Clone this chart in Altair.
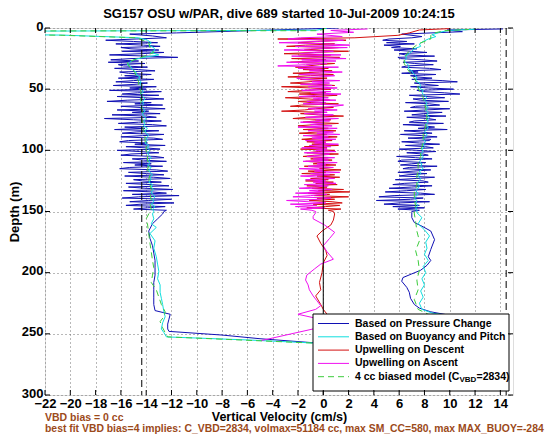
import altair as alt
import pandas as pd

FONT = "Liberation Sans"
W, H = 468, 367

TITLE = "SG157 OSU w/PAR, dive 689 started 10-Jul-2009 10:24:15"
X_TITLE = "Vertical Velocity (cm/s)"
Y_TITLE = "Depth (m)"
NOTE_1 = "VBD bias = 0 cc"
NOTE_2 = "best fit VBD bias=4 implies: C_VBD=2834, volmax=51184 cc, max SM_CC=580, max MAX_BUOY=-284"
X_TICKS = [-22, -20, -18, -16, -14, -12, -10, -8, -6, -4, -2, 0, 2, 4, 6, 8, 10, 12, 14]
Y_TICKS = [0, 50, 100, 150, 200, 250, 300]
LIMIT_LINES = [-14.35, 14.46]
ZERO_LINE = [0]

LEGEND_LABELS = ["Based on Pressure Change", "Based on Buoyancy and Pitch",
                 "Upwelling on Descent", "Upwelling on Ascent", "4 cc biased model (C"]
LEGEND_SUB = "VBD"
LEGEND_TAIL = "=2834)"

BLUE = "#1010b4"
CYAN = "#10dede"
RED = "#d41010"
MAGENTA = "#f010f0"
GREEN = "#3dcc3d"
BROWN = "#9c4a1a"

# ---------------- depth grid of the densely sampled upper 150 m (1 m) -------------
DENSE_D = [8, 9, 10, 11, 12, 13, 14, 15, 16, 17,
           18, 19, 20, 21, 22, 23, 24, 25, 26, 27,
           28, 29, 30, 31, 32, 33, 34, 35, 36, 37,
           38, 39, 40, 41, 42, 43, 44, 45, 46, 47,
           48, 49, 50, 51, 52, 53, 54, 55, 56, 57,
           58, 59, 60, 61, 62, 63, 64, 65, 66, 67,
           68, 69, 70, 71, 72, 73, 74, 75, 76, 77,
           78, 79, 80, 81, 82, 83, 84, 85, 86, 87,
           88, 89, 90, 91, 92, 93, 94, 95, 96, 97,
           98, 99, 100, 101, 102, 103, 104, 105, 106, 107,
           108, 109, 110, 111, 112, 113, 114, 115, 116, 117,
           118, 119, 120, 121, 122, 123, 124, 125, 126, 127,
           128, 129, 130, 131, 132, 133, 134, 135, 136, 137,
           138, 139, 140, 141, 142, 143, 144, 145, 146, 147,
           148, 149, 150]
# smoother model curves, 2 m / 4 m steps
CYAN_DESC_D = [8, 10, 12, 14, 16, 18, 20, 22, 24, 26, 28, 30, 32, 34, 36, 38,
               40, 42, 44, 46, 48, 50, 52, 54, 56, 58, 60, 62, 64, 66, 68, 70,
               72, 74, 76, 78, 80, 82, 84, 86, 88, 90, 92, 94, 96, 98, 100, 102,
               104, 106, 108, 110, 112, 114, 116, 118, 120, 122, 124, 126, 128, 130, 132, 134,
               136, 138, 140, 142, 144, 146, 148, 150]
CYAN_ASC_D = [9, 11, 13, 15, 17, 19, 21, 23, 25, 27, 29, 31, 33, 35, 37, 39,
              41, 43, 45, 47, 49, 51, 53, 55, 57, 59, 61, 63, 65, 67, 69, 71,
              73, 75, 77, 79, 81, 83, 85, 87, 89, 91, 93, 95, 97, 99, 101, 103,
              105, 107, 109, 111, 113, 115, 117, 119, 121, 123, 125, 127, 129, 131, 133, 135,
              137, 139, 141, 143, 145, 147, 149]
GREEN_DESC_D = [8, 12, 16, 20, 24, 28, 32, 36, 40, 44, 48, 52, 56, 60, 64, 68, 72, 76,
                80, 84, 88, 92, 96, 100, 104, 108, 112, 116, 120, 124, 128, 132, 136, 140, 144, 148]
GREEN_ASC_D = [9, 13, 17, 21, 25, 29, 33, 37, 41, 45, 49, 53, 57, 61, 65, 69, 73, 77,
               81, 85, 89, 93, 97, 101, 105, 109, 113, 117, 121, 125, 129, 133, 137, 141, 145, 149]

# ---------------- Based on Pressure Change (blue) ----------------
BLUE_DESC_TOP_D = [0.0, 4.0, 5.0, 6.5]
BLUE_DESC_TOP_V = [1.2, -11.6, -15.3, -13.5]
BLUE_DESC_V = [-12.4, -14.8, -17.2, -15.0, -13.1, -16.4, -14.2, -12.9, -16.0, -15.2,
               -13.0, -15.9, -12.6, -14.4, -16.9, -13.8, -11.5, -15.2, -16.8, -14.6,
               -17.0, -14.1, -16.2, -15.8, -13.9, -16.5, -14.6, -13.3, -16.1, -15.4,
               -13.6, -15.7, -14.3, -16.2, -13.4, -15.0, -16.4, -13.9, -14.8, -16.6,
               -13.2, -15.3, -14.0, -16.9, -12.8, -14.7, -15.9, -13.0, -16.3, -14.2,
               -12.6, -15.5, -17.1, -13.6, -14.9, -12.7, -16.0, -14.4, -12.5, -16.3,
               -13.8, -15.1, -12.9, -16.7, -14.0, -13.2, -17.3, -15.0, -12.8, -14.6,
               -16.2, -13.5, -12.4, -15.7, -14.1, -16.5, -13.0, -14.8, -15.9, -12.6,
               -14.3, -16.0, -13.4, -12.7, -15.4, -16.1, -13.9, -14.9, -12.5, -15.6,
               -14.0, -12.9, -16.3, -14.5, -13.0, -15.2, -16.0, -13.3, -12.6, -15.1,
               -14.2, -12.4, -15.8, -13.6, -14.9, -12.7, -15.3, -16.1, -13.2, -12.3,
               -15.4, -14.0, -12.6, -15.7, -13.4, -12.1, -15.0, -14.3, -12.8, -15.6,
               -13.7, -12.2, -15.4, -14.1, -11.9, -15.8, -13.5, -12.4, -15.1, -11.4,
               -14.6, -15.9, -12.0, -13.8, -15.3, -11.8, -14.4, -15.6, -12.5, -13.9,
               -15.0, -12.4, -12.6]
BLUE_DESC_DEEP_D = [152, 156, 160, 166, 172, 178, 184, 190, 196, 202, 208, 214,
                    220, 226, 231, 234, 238, 242, 246, 248, 251, 254, 257.5]
BLUE_DESC_DEEP_V = [-12.7, -13.1, -13.5, -13.8, -13.7, -13.5, -13.4, -13.3, -13.3, -13.3, -13.4, -13.4,
                    -13.4, -13.4, -13.3, -12.1, -12.2, -12.3, -12.3, -12.2, -8.0, -5.0, -0.5]
BLUE_ASC_DEEP_D = [151, 155, 159, 162, 166, 173, 181, 187, 190, 194, 198, 201, 204, 207,
                   212, 216, 221, 226, 229, 232, 236, 258.5]
BLUE_ASC_DEEP_V = [7.0, 7.0, 7.2, 7.8, 8.5, 8.8, 8.5, 8.3, 8.5, 8.2, 7.7, 7.0, 6.3, 6.2,
                   6.6, 6.8, 6.9, 7.2, 7.6, 8.5, 10.6, 0.2]
BLUE_ASC_V = [7.0, 5.2, 4.7, 6.6, 5.0, 7.2, 4.8, 6.1, 5.4, 7.4,
              5.6, 6.9, 8.2, 6.0, 6.5, 8.8, 5.9, 6.1, 7.8, 9.0,
              6.3, 7.2, 8.7, 6.6, 6.2, 8.4, 9.3, 6.8, 7.5, 6.2,
              8.9, 6.9, 7.4, 8.6, 7.0, 9.4, 10.6, 7.2, 8.0, 9.1,
              6.9, 8.3, 10.3, 7.4, 7.9, 9.6, 10.8, 6.8, 8.2, 9.6,
              7.1, 7.7, 9.9, 6.5, 8.4, 9.2, 7.3, 6.9, 10.0, 8.1,
              6.4, 9.4, 7.9, 7.0, 9.7, 6.6, 8.3, 8.9, 7.2, 6.8,
              9.5, 6.3, 8.0, 8.8, 7.5, 9.8, 6.4, 7.7, 8.6, 6.1,
              7.8, 9.0, 6.7, 8.5, 8.4, 6.2, 7.6, 9.2, 6.5, 8.1,
              8.7, 6.0, 7.4, 8.9, 6.6, 7.9, 8.3, 5.8, 7.3, 8.6,
              6.2, 5.9, 8.1, 7.0, 6.1, 9.0, 6.8, 6.3, 8.5, 7.1,
              5.9, 8.2, 6.7, 6.0, 8.8, 7.4, 5.7, 7.9, 8.3, 6.4,
              5.5, 8.6, 7.0, 5.2, 8.1, 6.6, 4.9, 7.7, 8.8, 5.6,
              4.4, 7.9, 6.9, 4.2, 8.4, 6.0, 4.8, 7.6, 5.5, 8.0,
              5.9, 7.6, 7.0]
BLUE_ASC_TOP_D = [0.8, 1.6, 3.0, 5.0, 7.0]
BLUE_ASC_TOP_V = [14.2, 9.8, 11.0, 6.2, 7.8]

# ---------------- Based on Buoyancy and Pitch (cyan) ----------------
CYAN_DESC_TOP_D = [0.0, 1.8, 2.6, 5.4, 5.8]
CYAN_DESC_TOP_V = [0.3, -0.5, -24.0, -24.0, -20.6]
CYAN_DESC_V = [-14.6, -13.9, -13.6, -13.8, -13.4, -13.3, -13.6, -13.0,
               -14.2, -15.0, -15.3, -15.5, -15.2, -15.1, -14.8, -14.8,
               -14.5, -14.6, -14.4, -14.5, -14.3, -14.4, -14.2, -14.4,
               -14.3, -14.1, -14.3, -14.2, -14.4, -14.2, -14.1, -14.3,
               -14.2, -14.0, -14.2, -14.1, -14.2, -13.9, -14.1, -14.0,
               -13.8, -14.0, -13.9, -14.1, -13.8, -13.9, -13.7, -13.9,
               -13.8, -13.6, -13.8, -13.7, -13.9, -13.6, -13.8, -13.7,
               -13.5, -13.7, -13.6, -13.8, -13.5, -13.6, -13.4, -13.6,
               -13.5, -13.3, -13.5, -13.4, -13.6, -13.3, -13.5, -13.4]
CYAN_DESC_DEEP_D = [152, 156, 160, 163, 168, 174, 180, 187, 193, 199, 205, 210,
                    216, 221, 226, 232, 236, 241, 246, 249, 252.5, 255, 258]
CYAN_DESC_DEEP_V = [-13.5, -13.4, -13.6, -13.2, -13.7, -13.3, -13.4, -13.2, -13.1, -13.0, -13.1, -12.9,
                    -12.9, -12.8, -12.7, -12.6, -12.5, -12.7, -12.8, -12.6, -12.4, -6.0, 0.3]
CYAN_ASC_DEEP_D = [151, 155, 160, 165, 170, 175, 180, 185, 190, 195, 200, 205,
                   210, 215, 220, 225, 230, 233, 236.5, 258.8]
CYAN_ASC_DEEP_V = [7.4, 7.8, 7.5, 8.0, 8.4, 8.1, 8.2, 8.0, 8.3, 7.9, 8.1, 7.8,
                   8.0, 7.7, 7.9, 7.6, 7.8, 8.6, 10.9, 0.6]
CYAN_ASC_V = [8.3, 7.9, 7.6, 7.7, 7.2, 7.0, 6.8, 6.5,
              6.6, 6.4, 6.6, 6.8, 6.7, 7.0, 7.1, 7.3,
              7.4, 7.3, 7.6, 7.7, 7.6, 7.9, 7.8, 8.0,
              8.2, 8.0, 8.2, 8.1, 8.3, 8.1, 8.3, 8.2,
              8.4, 8.2, 8.3, 8.1, 8.3, 8.2, 8.0, 8.2,
              8.1, 7.9, 8.1, 7.9, 8.0, 7.8, 7.9, 7.7,
              7.9, 7.8, 7.6, 7.8, 7.7, 7.9, 7.6, 7.7,
              7.5, 7.7, 7.6, 7.4, 7.6, 7.5, 7.3, 7.5,
              7.4, 7.2, 7.4, 7.3, 7.5, 7.3, 7.4]
CYAN_ASC_TOP_D = [1.0, 2.0, 3.5, 5.5, 7.0]
CYAN_ASC_TOP_V = [12.0, 9.9, 9.2, 8.6, 8.9]

# ---------------- Upwelling on Descent (red) ----------------
RED_TOP_D = [0.5, 1.6, 4.0, 6.0]
RED_TOP_V = [10.0, 7.6, 6.8, 5.9]
RED_V = [2.5, -3.6, 1.8, -0.6, -2.0, 0.9, -1.4, -2.9, 1.2, -0.2,
         -1.5, 2.0, -0.8, -3.1, 0.6, -1.9, 1.3, -2.5, 0.2, -1.1,
         -2.6, 0.9, -0.3, -1.2, -2.2, 0.4, -1.6, 0.7, -0.3, -2.4,
         0.8, -1.0, -2.8, 0.3, -1.8, 0.1, -1.2, -2.6, -0.5, 0.9,
         -3.3, -1.0, 0.6, -1.4, -2.8, 0.2, -1.9, 1.1, -0.6, -3.0,
         -1.2, 0.5, -2.0, -0.9, 1.2, -1.7, -2.6, 0.8, -0.6, -1.5,
         -3.3, 0.3, -1.8, -0.4, 1.6, -1.3, -2.4, 0.6, -0.7, -1.6,
         1.2, -0.7, -2.0, -1.0, 0.4, -1.6, 1.0, -0.4, -1.9, 0.3,
         -1.0, 1.1, -0.6, -1.7, 0.7, -1.3, 0.2, -0.9, 1.2, -1.5,
         0.3, -1.8, 0.9, -0.4, -1.3, 1.2, -0.7, -1.6, 0.4, -1.0,
         0.7, -1.4, 0.1, -0.8, 1.0, -1.5, 0.6, -0.3, 1.4, -1.2,
         0.2, -1.7, 0.9, -0.5, 1.3, -1.0, 0.4, -1.4, 0.8, -0.6,
         1.1, -1.3, 0.3, -0.9, 1.6, -0.4, 2.1, -1.2, 0.5, -0.7,
         2.0, -0.5, 0.9, -1.1, 0.7, 1.5, -0.8, 1.3, 0.2, -1.3,
         1.4, 0.4, 0.8]
RED_DEEP_D = [152, 157, 161, 166, 170, 176, 182, 186, 192, 200, 208, 214, 219, 226,
              230, 234, 240, 246, 252, 257]
RED_DEEP_V = [0.9, 0.8, 0.6, -0.1, -0.5, -0.2, 0.2, 0.3, 0.0, -0.1, -0.3, -0.2, -0.6, -0.2,
              0.0, 0.3, 0.1, 0.2, -0.2, 0.0]

# ---------------- Upwelling on Ascent (magenta) ----------------
MAG_TOP_D = [0.8, 2.0, 3.5, 5.0, 7.0]
MAG_TOP_V = [3.5, 0.6, 2.4, -0.5, 1.5]
MAG_V = [-1.8, -2.8, 1.6, -0.4, -3.5, 0.4, 2.1, -2.2, 1.9, -1.0,
         -3.1, 0.8, -0.6, -1.8, 1.4, -2.5, -0.2, 1.8, -1.7, 1.0,
         -2.9, 0.3, -1.4, -3.6, 1.2, -2.0, 0.1, -1.1, 1.5, -0.6,
         -1.9, 0.9, -0.4, -2.1, -1.6, 1.3, -0.9, 0.5, -1.8, 0.7,
         -1.2, 1.1, -0.3, -1.7, 0.6, -1.0, 1.4, -0.5, -1.9, 0.4,
         -0.8, 1.0, -1.3, 0.2, -1.6, 1.6, 0.9, -0.4, -1.2, 1.1,
         -0.7, 0.3, -1.5, 0.8, -0.2, -1.4, 1.2, -0.6, 0.5, -1.8,
         0.0, -1.0, 0.7, -2.0, 1.1, -0.3, -1.2, 0.8, -0.5, 1.3,
         -1.6, 0.4, -0.9, 1.0, -1.4, 0.2, -0.7, 1.2, -1.1, 0.6,
         -1.7, 0.3, -0.6, 1.0, -1.5, 0.5, -0.2, -1.3, 0.9, -0.8,
         0.4, -1.6, 1.1, -0.5, 0.2, -1.2, 0.8, -1.9, 0.0, -0.7,
         1.3, -1.0, 0.5, -1.8, -0.3, 0.9, -1.4, 0.2, -0.8, 1.0,
         -1.5, 0.4, -0.6, -1.9, 0.7, -1.1, 0.1, -2.2, 0.3, -1.0,
         -2.4, 0.6, -0.3, -2.9, -1.2, 0.2, -2.6, -0.5, -2.2, 0.1,
         -1.8, -0.9, -0.6]
MAG_DEEP_D = [151, 154, 156, 161, 167, 172, 178, 183, 189, 193, 197, 202, 206, 210,
              214, 219, 223, 227, 230, 234, 237, 241, 246, 255.5]
MAG_DEEP_V = [-0.6, -0.8, -0.8, 0.1, 0.9, 0.5, 0.0, 0.3, 0.8, -0.2, -0.7, -1.3, -1.4, -1.2,
              -1.1, -0.8, -0.5, -0.2, -0.6, -2.0, -0.7, -0.6, -0.8, -4.9]

# ---------------- 4 cc biased model (green dashed) ----------------
GREEN_DESC_TOP_D = [0.0, 2.2, 2.4, 5.5, 5.9]
GREEN_DESC_TOP_V = [0.2, -0.3, -24.0, -24.0, -20.8]
GREEN_DESC_V = [-14.8, -13.8, -13.7, -13.4, -14.4, -15.5, -15.3, -14.9, -14.8, -14.6, -14.6, -14.4,
                -14.5, -14.4, -14.5, -14.3, -14.4, -14.3, -14.3, -14.2, -14.1, -14.1, -14.0, -14.0,
                -13.9, -13.9, -13.8, -13.9, -13.7, -13.8, -13.7, -13.6, -13.7, -13.6, -13.7, -13.6]
GREEN_DESC_DEEP_D = [152, 156, 160, 168, 176, 183, 190, 196, 202, 208, 214, 220, 226, 232,
                     236, 240, 245, 249, 252.5, 258]
GREEN_DESC_DEEP_V = [-13.8, -14.0, -13.9, -13.8, -13.7, -13.6, -13.5, -13.4, -13.5, -13.6, -13.2, -13.0,
                     -12.8, -12.5, -12.6, -12.9, -12.7, -12.5, -12.3, 0.2]
GREEN_ASC_DEEP_D = [152, 158, 166, 174, 182, 190, 198, 206, 214, 222, 230, 234, 237, 258.5]
GREEN_ASC_DEEP_V = [7.2, 7.3, 7.4, 7.6, 7.3, 7.5, 7.6, 7.4, 7.5, 7.2, 7.5, 8.3, 10.6, 0.5]
GREEN_ASC_V = [8.5, 7.5, 7.0, 6.6, 6.4, 6.4, 6.6, 6.9, 7.2, 7.4, 7.5, 7.7,
               7.9, 8.0, 8.1, 8.1, 8.2, 8.1, 8.1, 7.9, 7.9, 7.9, 7.8, 7.7,
               7.7, 7.5, 7.5, 7.5, 7.4, 7.4, 7.4, 7.2, 7.2, 7.2, 7.3, 7.2]
GREEN_ASC_TOP_D = [1.2, 2.2, 4.0, 6.0]
GREEN_ASC_TOP_V = [11.5, 9.6, 8.8, 8.5]


def path(parts):
    """parts: list of (depths, values, reverse_flag) in drawing order."""
    rows = []
    for depths, values, rev in parts:
        pairs = list(zip(depths, values))
        if rev:
            pairs = pairs[::-1]
        rows.extend(pairs)
    return pd.DataFrame({"depth": [p[0] for p in rows],
                         "v": [p[1] for p in rows],
                         "seq": list(range(len(rows)))})


blue_df = path([(BLUE_DESC_TOP_D, BLUE_DESC_TOP_V, False), (DENSE_D, BLUE_DESC_V, False),
                (BLUE_DESC_DEEP_D, BLUE_DESC_DEEP_V, False), (BLUE_ASC_DEEP_D, BLUE_ASC_DEEP_V, True),
                (DENSE_D, BLUE_ASC_V, True), (BLUE_ASC_TOP_D, BLUE_ASC_TOP_V, True)])
cyan_df = path([(CYAN_DESC_TOP_D, CYAN_DESC_TOP_V, False), (CYAN_DESC_D, CYAN_DESC_V, False),
                (CYAN_DESC_DEEP_D, CYAN_DESC_DEEP_V, False), (CYAN_ASC_DEEP_D, CYAN_ASC_DEEP_V, True),
                (CYAN_ASC_D, CYAN_ASC_V, True), (CYAN_ASC_TOP_D, CYAN_ASC_TOP_V, True)])
red_df = path([(RED_TOP_D, RED_TOP_V, False), (DENSE_D, RED_V, False), (RED_DEEP_D, RED_DEEP_V, False)])
mag_df = path([(MAG_DEEP_D, MAG_DEEP_V, True), (DENSE_D, MAG_V, True), (MAG_TOP_D, MAG_TOP_V, True)])
green_df = path([(GREEN_DESC_TOP_D, GREEN_DESC_TOP_V, False), (GREEN_DESC_D, GREEN_DESC_V, False),
                 (GREEN_DESC_DEEP_D, GREEN_DESC_DEEP_V, False), (GREEN_ASC_DEEP_D, GREEN_ASC_DEEP_V, True),
                 (GREEN_ASC_D, GREEN_ASC_V, True), (GREEN_ASC_TOP_D, GREEN_ASC_TOP_V, True)])

x_scale = alt.Scale(domain=[-22, 15], nice=False, zero=False)
y_scale = alt.Scale(domain=[0, 300], nice=False, zero=False, reverse=True)

x_axis = alt.Axis(values=X_TICKS, format="d", title=X_TITLE,
                  labelFont=FONT, labelFontSize=13, labelFontWeight="bold", labelColor="black",
                  labelPadding=2.5, labelFlush=False, labelOverlap=False, labelBound=False,
                  ticks=False, domain=False, grid=True, gridDash=[1, 3], gridColor="#707070",
                  gridWidth=1, titleFont=FONT, titleFontSize=12.5, titleFontWeight="bold",
                  titleColor="black", titleX=W / 2, titleY=21, titleBaseline="middle",
                  titleAlign="center")
y_axis = alt.Axis(values=Y_TICKS, format="d", title=Y_TITLE,
                  labelFont=FONT, labelFontSize=13, labelFontWeight="bold", labelColor="black",
                  labelPadding=2, labelOffset=-2, labelFlush=False, labelOverlap=False,
                  labelBound=False,
                  ticks=False, domain=False, grid=True, gridDash=[1, 3], gridColor="#707070",
                  gridWidth=1, titleFont=FONT, titleFontSize=13, titleFontWeight="bold",
                  titleColor="black", titleX=-31, titleY=H / 2, titleBaseline="middle",
                  titleAlign="center", titleAngle=270)

X = alt.X("v:Q", scale=x_scale, axis=x_axis)
Y = alt.Y("depth:Q", scale=y_scale, axis=y_axis)


def line(df, color, dash=None):
    kw = dict(color=color, strokeWidth=1, clip=True)
    if dash:
        kw["strokeDash"] = dash
    return alt.Chart(df).mark_line(**kw).encode(x=X, y=Y, order=alt.Order("seq:Q"))


layers = [
    line(blue_df, BLUE),
    line(cyan_df, CYAN),
    line(red_df, RED),
    line(mag_df, MAGENTA),
    line(green_df, GREEN, [6, 4]),
    alt.Chart(pd.DataFrame({"v": LIMIT_LINES})).mark_rule(color="black", strokeDash=[7, 4], strokeWidth=1)
       .encode(x=X, y=alt.value(0), y2=alt.value(H)),
    alt.Chart(pd.DataFrame({"v": ZERO_LINE})).mark_rule(color="black", strokeWidth=1)
       .encode(x=X, y=alt.value(0), y2=alt.value(H)),
]

one = pd.DataFrame({"k": [0]})
# legend box
layers.append(alt.Chart(one).mark_rect(fill="white", stroke="black", strokeWidth=1)
              .encode(x=alt.value(268), x2=alt.value(464), y=alt.value(286), y2=alt.value(363)))
leg_colors = [BLUE, CYAN, RED, MAGENTA, GREEN]
for i, (lab, col) in enumerate(zip(LEGEND_LABELS, leg_colors)):
    yy = 295.5 + 13.3 * i
    kw = dict(color=col, strokeWidth=1)
    if i == 4:
        kw["strokeDash"] = [6, 4]
    layers.append(alt.Chart(one).mark_rule(**kw)
                  .encode(x=alt.value(273), x2=alt.value(304), y=alt.value(yy)))
    layers.append(alt.Chart(one).mark_text(align="left", baseline="middle", font=FONT,
                                           fontSize=10.5, fontWeight="bold", color="black")
                  .encode(x=alt.value(310), y=alt.value(yy), text=alt.value(lab)))
yy5 = 295.5 + 13.3 * 4
layers.append(alt.Chart(one).mark_text(align="left", baseline="middle", font=FONT,
                                       fontSize=8, fontWeight="bold", color="black")
              .encode(x=alt.value(414.5), y=alt.value(yy5 + 3), text=alt.value(LEGEND_SUB)))
layers.append(alt.Chart(one).mark_text(align="left", baseline="middle", font=FONT,
                                       fontSize=10.5, fontWeight="bold", color="black")
              .encode(x=alt.value(431.5), y=alt.value(yy5), text=alt.value(LEGEND_TAIL)))

# inward tick marks
xt = pd.DataFrame({"v": X_TICKS})
yt = pd.DataFrame({"depth": Y_TICKS})
layers += [
    alt.Chart(xt).mark_rule(color="black").encode(x=X, y=alt.value(H - 5), y2=alt.value(H)),
    alt.Chart(xt).mark_rule(color="black").encode(x=X, y=alt.value(0), y2=alt.value(5)),
    alt.Chart(yt).mark_rule(color="black").encode(y=Y, x=alt.value(0), x2=alt.value(5)),
    alt.Chart(yt).mark_rule(color="black").encode(y=Y, x=alt.value(W - 5), x2=alt.value(W)),
]

# notes below the axes
layers.append(alt.Chart(one).mark_text(align="left", baseline="middle", font=FONT, fontSize=10.5,
                                       fontWeight="bold", color=BROWN)
              .encode(x=alt.value(0), y=alt.value(H + 23), text=alt.value(NOTE_1)))
layers.append(alt.Chart(one).mark_text(align="left", baseline="middle", font=FONT, fontSize=10.4,
                                       fontWeight="bold", color=BROWN)
              .encode(x=alt.value(0), y=alt.value(H + 34), text=alt.value(NOTE_2)))

chart = alt.layer(*layers).properties(
    width=W, height=H,
    title=alt.TitleParams(TITLE, font=FONT, fontSize=13, fontWeight="bold", color="black",
                          anchor="middle", frame="group", offset=-1),
    autosize=alt.AutoSizeParams(type="none"),
    padding={"left": 37, "top": 20, "right": 33, "bottom": 39},
).configure_view(stroke="black", strokeWidth=1).configure(background="white")

chart.save("out.html", embed_options={"renderer": "svg", "actions": False})
